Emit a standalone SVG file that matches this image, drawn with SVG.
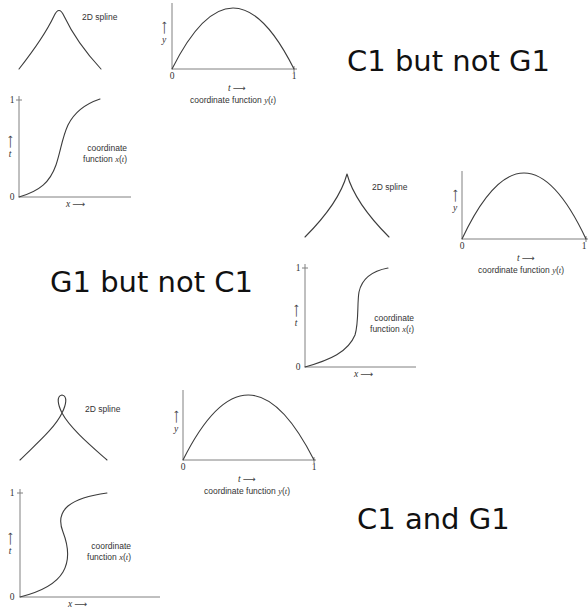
<svg xmlns="http://www.w3.org/2000/svg" width="588" height="611" viewBox="0 0 588 611">
<style>
.bg{fill:#ffffff}
.curve{fill:none;stroke:#3c3c3c;stroke-width:1.1;stroke-linecap:round;stroke-linejoin:round}
.axis{fill:none;stroke:#808080;stroke-width:1}
.lbl{font-family:"Liberation Sans","Arial",sans-serif;font-size:8.5px;fill:#333}
.num{font-family:"Liberation Serif","DejaVu Serif",serif;font-size:9.5px;fill:#333;text-anchor:middle}
.var{font-family:"Liberation Serif","DejaVu Serif",serif;font-size:9.5px;fill:#333;font-style:italic}
.arr{font-family:"DejaVu Sans",sans-serif;font-size:9px;fill:#444}
.big{font-family:"DejaVu Sans",sans-serif;font-size:29px;fill:#111}
.it{font-style:italic;font-family:"Liberation Serif","DejaVu Serif",serif}
</style>
<rect class="bg" x="0" y="0" width="588" height="611"/>

<g id="panel-c1-not-g1">
  <g id="a-spline">
    <path class="curve" d="M19,69 C30,55 45,35 54,16 Q59,5 64,16 C73,35 88,55 101,69"/>
    <text class="lbl" x="82" y="20">2D spline</text>
  </g>
  <g id="a-yt">
    <path class="axis" d="M172,3 V69 H297 M294,66 V72"/>
    <path class="curve" d="M172,69 Q233,-53 294,69"/>
    <text class="num" x="172" y="79">0</text>
    <text class="num" x="294" y="79">1</text>
    <text class="var" x="228" y="91">t <tspan class="arr" font-style="normal">⟶</tspan></text>
    <text class="lbl" x="233" y="103" text-anchor="middle">coordinate function <tspan class="it">y</tspan>(<tspan class="it">t</tspan>)</text>
    <text class="arr" transform="translate(164,34) rotate(-90)" x="0" y="3">⟶</text>
    <text class="var" x="164" y="43" text-anchor="middle">y</text>
  </g>
  <g id="a-xt">
    <path class="axis" d="M19,96 V197 H131 M16,100 H22"/>
    <path class="curve" d="M19,197 C40,191 50,182 56,165 C61,150 62,138 68,125 C75,111 88,103 100,99"/>
    <text class="num" x="12" y="103">1</text>
    <text class="num" x="12" y="200">0</text>
    <text class="arr" transform="translate(10,148) rotate(-90)" x="0" y="3">⟶</text>
    <text class="var" x="10" y="157" text-anchor="middle">t</text>
    <text class="lbl" x="127" y="151" text-anchor="end">coordinate</text>
    <text class="lbl" x="127" y="162" text-anchor="end">function <tspan class="it">x</tspan>(<tspan class="it">t</tspan>)</text>
    <text class="var" x="66" y="207">x <tspan class="arr" font-style="normal">⟶</tspan></text>
  </g>
  <text id="a-title" class="big" x="347" y="71">C1 but not G1</text>
</g>

<g id="panel-g1-not-c1">
  <g id="b-spline">
    <path class="curve" d="M305,237 C320,222 340,200 347,174 C354,200 374,222 389,237"/>
    <text class="lbl" x="372" y="190">2D spline</text>
  </g>
  <g id="b-yt">
    <path class="axis" d="M462,171 V239 H588 M586,236 V242"/>
    <path class="curve" d="M462,239 Q524,107 586,239"/>
    <text class="num" x="462" y="249">0</text>
    <text class="num" x="584" y="249">1</text>
    <text class="var" x="517" y="261">t <tspan class="arr" font-style="normal">⟶</tspan></text>
    <text class="lbl" x="521" y="273" text-anchor="middle">coordinate function <tspan class="it">y</tspan>(<tspan class="it">t</tspan>)</text>
    <text class="arr" transform="translate(455,202) rotate(-90)" x="0" y="3">⟶</text>
    <text class="var" x="455" y="211" text-anchor="middle">y</text>
  </g>
  <g id="b-xt">
    <path class="axis" d="M305,264 V367 H416 M302,268 H308"/>
    <path class="curve" d="M305,367 C330,360 348,352 355,335 C359,322 357,303 359,292 C362,278 372,271 388,268"/>
    <text class="num" x="298" y="271">1</text>
    <text class="num" x="298" y="370">0</text>
    <text class="arr" transform="translate(296,317) rotate(-90)" x="0" y="3">⟶</text>
    <text class="var" x="296" y="326" text-anchor="middle">t</text>
    <text class="lbl" x="414" y="321" text-anchor="end">coordinate</text>
    <text class="lbl" x="414" y="332" text-anchor="end">function <tspan class="it">x</tspan>(<tspan class="it">t</tspan>)</text>
    <text class="var" x="354" y="377">x <tspan class="arr" font-style="normal">⟶</tspan></text>
  </g>
  <text id="b-title" class="big" x="50" y="292">G1 but not C1</text>
</g>

<g id="panel-c1-and-g1">
  <g id="c-spline">
    <path class="curve" d="M20,460 C35,445 55,428 62,413 C66,405 68,396 62,395 C56,396 58,405 62,413 C70,428 90,445 107,460"/>
    <text class="lbl" x="85" y="412">2D spline</text>
  </g>
  <g id="c-yt">
    <path class="axis" d="M183,390 V460 H316 M314,457 V463"/>
    <path class="curve" d="M183,460 Q248,330 314,460"/>
    <text class="num" x="183" y="470">0</text>
    <text class="num" x="314" y="470">1</text>
    <text class="var" x="238" y="482">t <tspan class="arr" font-style="normal">⟶</tspan></text>
    <text class="lbl" x="247" y="494" text-anchor="middle">coordinate function <tspan class="it">y</tspan>(<tspan class="it">t</tspan>)</text>
    <text class="arr" transform="translate(176,423) rotate(-90)" x="0" y="3">⟶</text>
    <text class="var" x="176" y="432" text-anchor="middle">y</text>
  </g>
  <g id="c-xt">
    <path class="axis" d="M20,489 V597 H160 M17,493 H23"/>
    <path class="curve" d="M20,597 C40,592 56,584 63,572 C70,560 68,545 63,532 C59,522 60,513 68,506 C78,498 92,495 107,493"/>
    <text class="num" x="12" y="496">1</text>
    <text class="num" x="12" y="600">0</text>
    <text class="arr" transform="translate(10,545) rotate(-90)" x="0" y="3">⟶</text>
    <text class="var" x="10" y="554" text-anchor="middle">t</text>
    <text class="lbl" x="131" y="549" text-anchor="end">coordinate</text>
    <text class="lbl" x="131" y="560" text-anchor="end">function <tspan class="it">x</tspan>(<tspan class="it">t</tspan>)</text>
    <text class="var" x="68" y="607">x <tspan class="arr" font-style="normal">⟶</tspan></text>
  </g>
  <text id="c-title" class="big" x="357" y="529">C1 and G1</text>
</g>
</svg>
